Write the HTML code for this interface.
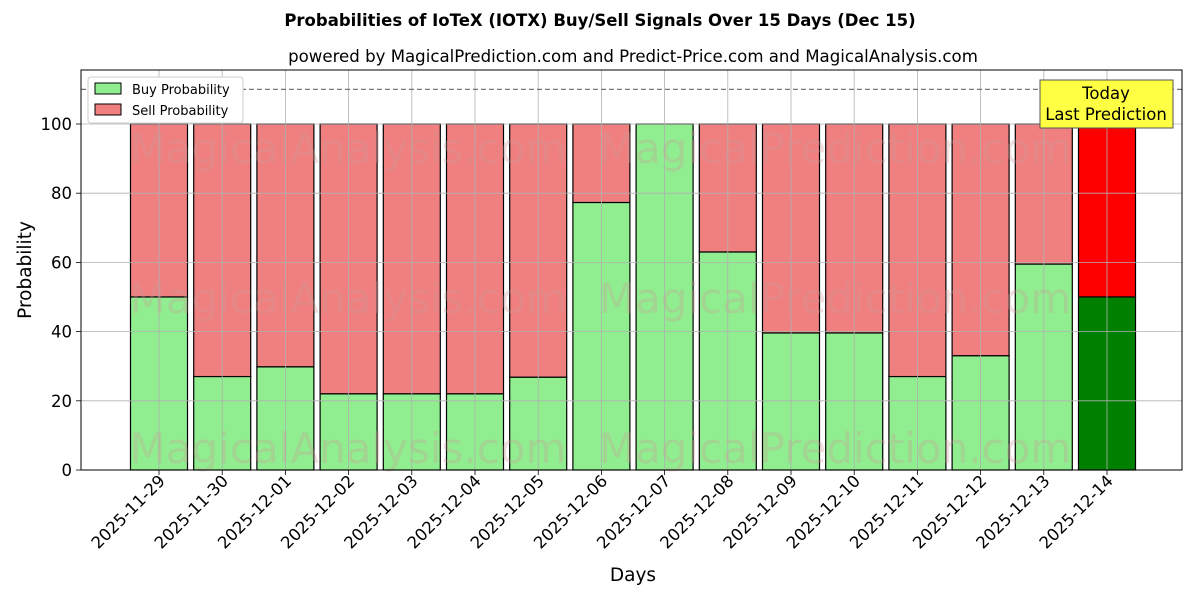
<!DOCTYPE html><html><head><meta charset="utf-8"><style>body{margin:0;background:#fff}svg{display:block}text{font-family:"DejaVu Sans","Liberation Sans",sans-serif}</style></head><body>
<svg width="1200" height="600" viewBox="0 0 1200 600">
<text x="600" y="26" font-size="16.5" font-weight="bold" text-anchor="middle">Probabilities of IoTeX (IOTX) Buy/Sell Signals Over 15 Days (Dec 15)</text>
<text x="633" y="62" font-size="16.6" text-anchor="middle">powered by MagicalPrediction.com and Predict-Price.com and MagicalAnalysis.com</text>
<g id="bars" stroke="#000" stroke-width="1.2"></g>
<g id="grid" stroke="#b0b0b0" stroke-width="0.8"></g>
<g font-size="42" fill="#c99" opacity="0.3" text-anchor="middle">
<text x="348" y="163">MagicalAnalysis.com</text><text x="835" y="163">MagicalPrediction.com</text>
<text x="348" y="313">MagicalAnalysis.com</text><text x="835" y="313">MagicalPrediction.com</text>
<text x="348" y="463">MagicalAnalysis.com</text><text x="835" y="463">MagicalPrediction.com</text>
</g>
<line x1="81" y1="89.4" x2="1182" y2="89.4" stroke="#777" stroke-dasharray="5,3" stroke-width="1.2"/>
<rect x="81" y="70" width="1101" height="400" fill="none" stroke="#000" stroke-width="1"/>
<g id="yt" font-size="16.5" text-anchor="end"></g>
<g id="xt" font-size="16.5" text-anchor="end"></g>
<text x="633" y="581" font-size="18.5" text-anchor="middle">Days</text>
<text transform="translate(31,270) rotate(-90)" font-size="18.5" text-anchor="middle">Probability</text>
<rect x="1040" y="80" width="133" height="48" fill="#ffff44" stroke="#555" stroke-width="1"/>
<text x="1106" y="99" font-size="16.5" text-anchor="middle">Today</text>
<text x="1106" y="120" font-size="16.5" text-anchor="middle">Last Prediction</text>
<rect x="88" y="77" width="155" height="46" fill="#fff" stroke="#ccc" rx="3"/>
<rect x="95" y="83" width="26" height="11" fill="#90ee90" stroke="#000"/>
<text x="132" y="94" font-size="13">Buy Probability</text>
<rect x="95" y="104" width="26" height="11" fill="#f08080" stroke="#000"/>
<text x="132" y="115" font-size="13">Sell Probability</text>
</svg>
<script>
var v=[50,27,29.8,22,22,22,26.8,77.3,100,63,39.6,39.6,27,33,59.5,50];
var d=["2025-11-29","2025-11-30","2025-12-01","2025-12-02","2025-12-03","2025-12-04","2025-12-05","2025-12-06","2025-12-07","2025-12-08","2025-12-09","2025-12-10","2025-12-11","2025-12-12","2025-12-13","2025-12-14"];
var ns="http://www.w3.org/2000/svg";function el(p,t,a,tx){var e=document.createElementNS(ns,t);for(var k in a)e.setAttribute(k,a[k]);if(tx!==undefined)e.textContent=String(tx);document.getElementById(p).appendChild(e);}
var Y=function(p){return 470-3.46*p};
for(var i=0;i<16;i++){var c=159+63.2*i,last=i==15;
el("bars","rect",{x:c-28.5,y:Y(100),width:57,height:Y(v[i])-Y(100),fill:last?"#ff0000":"#f08080"});
el("bars","rect",{x:c-28.5,y:Y(v[i]),width:57,height:470-Y(v[i]),fill:last?"#008000":"#90ee90"});
el("grid","line",{x1:c,y1:70,x2:c,y2:470});
el("grid","line",{x1:c,y1:470,x2:c,y2:475,stroke:"#000"});
el("xt","text",{transform:"translate("+(c+7)+",482) rotate(-45)"},d[i]);}
for(var p=0;p<=100;p+=20){el("grid","line",{x1:81,y1:Y(p),x2:1182,y2:Y(p)});el("grid","line",{x1:76,y1:Y(p),x2:81,y2:Y(p),stroke:"#000"});el("yt","text",{x:72,y:Y(p)+6},p);}
</script>
</body></html>
